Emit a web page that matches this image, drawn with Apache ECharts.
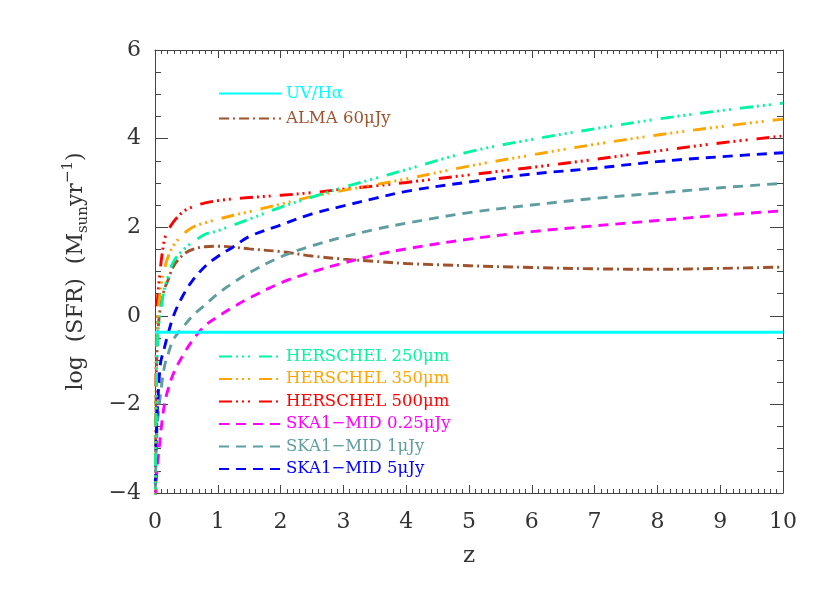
<!DOCTYPE html>
<html>
<head>
<meta charset="utf-8">
<script src="https://cdn.jsdelivr.net/npm/echarts@6/dist/echarts.min.js"></script>
<style>
  html, body { margin: 0; padding: 0; background: #fff; }
  #main { width: 830px; height: 593px; }
</style>
</head>
<body>
<div id="main"></div>
<script>
// redshift grid shared by the curves
var zs = [0.005, 0.01, 0.02, 0.03, 0.05, 0.08, 0.1, 0.15, 0.2, 0.3, 0.45, 0.6, 0.8, 1,
          1.25, 1.5, 2, 2.5, 3, 3.5, 4, 5, 6, 7, 8, 9, 10];

// log SFR limits
var herschel250 = [-4.3, -3.2, -1.8, -1.0, -0.35, 0.0, 0.2, 0.62, 0.85, 1.24, 1.49, 1.66, 1.84, 1.92,
                   2.05, 2.18, 2.45, 2.68, 2.9, 3.1, 3.3, 3.7, 3.98, 4.22, 4.44, 4.63, 4.80];
var herschel350 = [-4.3, -2.9, -1.3, -0.5, 0.14, 0.51, 0.72, 1.05, 1.3, 1.6, 1.84, 2.0, 2.1, 2.18,
                   2.27, 2.35, 2.52, 2.69, 2.83, 2.96, 3.09, 3.38, 3.63, 3.87, 4.08, 4.27, 4.44];
var herschel500 = [-4.3, -2.6, -0.8, 0.1, 0.55, 0.98, 1.25, 1.72, 1.9, 2.13, 2.35, 2.46, 2.55, 2.6,
                   2.64, 2.67, 2.72, 2.78, 2.86, 2.93, 3.01, 3.18, 3.35, 3.53, 3.72, 3.90, 4.06];
var ska025 = [-4.5, -4.2, -3.76, -3.52, -3.22, -2.8, -2.52, -2.0, -1.7, -1.28, -0.88, -0.55, -0.22, -0.02,
              0.2, 0.4, 0.74, 0.99, 1.19, 1.37, 1.51, 1.73, 1.9, 2.03, 2.15, 2.27, 2.37];
var ska1 = [-4.3, -3.6, -2.95, -2.65, -2.25, -1.85, -1.62, -1.15, -0.9, -0.52, -0.25, 0.0, 0.25, 0.5,
            0.75, 0.97, 1.33, 1.58, 1.78, 1.95, 2.09, 2.33, 2.5, 2.65, 2.77, 2.89, 2.99];
var ska5 = [-3.8, -3.4, -2.75, -2.35, -1.8, -1.15, -0.98, -0.72, -0.45, 0.02, 0.47, 0.8, 1.12, 1.34,
            1.56, 1.79, 2.05, 2.3, 2.48, 2.65, 2.81, 3.02, 3.2, 3.33, 3.48, 3.59, 3.68];
var alma60 = [-4.3, -3.0, -1.6, -0.9, -0.3, 0.14, 0.3, 0.6, 0.78, 1.13, 1.38, 1.5, 1.56, 1.57,
              1.55, 1.51, 1.45, 1.35, 1.28, 1.23, 1.18, 1.13, 1.09, 1.06, 1.05, 1.07, 1.10];
var uvZ = [0, 10];
var uvHa = [-0.37, -0.37];

var FONT = 'DejaVu Serif';

function pairs(xs, ys) {
  return xs.map(function (x, i) { return [x, ys[i]]; });
}

var dashDot3 = [13, 4, 2, 4, 2, 4, 2, 9];
var dashDot = [10, 4, 2, 4];
var dashed = [10, 7];

function curve(name, color, dash, ys, xs) {
  return {
    name: name,
    type: 'line',
    data: pairs(xs || zs, ys),
    showSymbol: false,
    symbol: 'none',
    smooth: 0.35,
    lineStyle: { color: color, width: 2.9, type: dash },
    itemStyle: { color: color },
    animation: false
  };
}

var series = [
  curve('ALMA 60μJy', '#a0522d', dashDot, alma60),
  curve('SKA1−MID 0.25μJy', '#ff00ff', dashed, ska025),
  curve('SKA1−MID 1μJy', '#5f9ea0', dashed, ska1),
  curve('SKA1−MID 5μJy', '#0000ff', dashed, ska5),
  curve('HERSCHEL 500μm', '#ff0000', dashDot3, herschel500),
  curve('HERSCHEL 350μm', '#ffa500', dashDot3, herschel350),
  curve('HERSCHEL 250μm', '#00f5a0', dashDot3, herschel250),
  curve('UV/Hα', '#00ffff', 'solid', uvHa, uvZ)
];

function legendItem(name, color) {
  return { name: name, textStyle: { color: color } };
}

var axisColor = '#444';
var labelStyle = { fontFamily: FONT, fontSize: 22, color: '#333' };

function frameAxis(extra) {
  return Object.assign({
    type: 'value',
    axisLine: { onZero: false, lineStyle: { color: axisColor, width: 1 } },
    splitLine: { show: false }
  }, extra);
}

var myChart = echarts.init(document.getElementById('main'));
myChart.setOption({
  backgroundColor: '#fff',
  animation: false,
  grid: { left: 155, right: 47, top: 50, bottom: 100 },
  legend: [{
    left: 218, top: 85, orient: 'vertical', padding: 0,
    itemWidth: 62, itemHeight: 14, itemGap: 8,
    itemStyle: { opacity: 0 },
    textStyle: { fontFamily: FONT, fontSize: 16.5 },
    data: [legendItem('UV/Hα', '#00ffff'), legendItem('ALMA 60μJy', '#a0522d')]
  }, {
    left: 218, top: 348, orient: 'vertical', padding: 0,
    itemWidth: 62, itemHeight: 14, itemGap: 5.5,
    itemStyle: { opacity: 0 },
    textStyle: { fontFamily: FONT, fontSize: 16.5 },
    data: [
      legendItem('HERSCHEL 250μm', '#00f5a0'),
      legendItem('HERSCHEL 350μm', '#ffa500'),
      legendItem('HERSCHEL 500μm', '#ff0000'),
      legendItem('SKA1−MID 0.25μJy', '#ff00ff'),
      legendItem('SKA1−MID 1μJy', '#5f9ea0'),
      legendItem('SKA1−MID 5μJy', '#0000ff')
    ]
  }],
  xAxis: [frameAxis({
    min: 0, max: 10, interval: 1, position: 'bottom',
    name: 'z', nameLocation: 'middle', nameGap: 52,
    nameTextStyle: { fontFamily: FONT, fontSize: 23, color: '#333' },
    axisTick: { inside: true, length: 8, lineStyle: { color: axisColor } },
    minorTick: { show: true, splitNumber: 10, length: 4, lineStyle: { color: axisColor } },
    axisLabel: Object.assign({ margin: 18 }, labelStyle)
  }), frameAxis({
    min: 0, max: 10, interval: 1, position: 'top',
    axisTick: { inside: true, length: 8, lineStyle: { color: axisColor } },
    minorTick: { show: true, splitNumber: 10, length: 4, lineStyle: { color: axisColor } },
    axisLabel: { show: false }
  })],
  yAxis: [frameAxis({
    min: -4, max: 6, interval: 2, position: 'left',
    name: '{a|log  (SFR)  (M}{s|sun}{a|yr}{p|−1}{a|)}',
    nameLocation: 'middle', nameGap: 64, nameRotate: 90,
    nameTextStyle: {
      rich: {
        a: { fontFamily: FONT, fontSize: 22, color: '#333', lineHeight: 30 },
        s: { fontFamily: FONT, fontSize: 15, color: '#333', lineHeight: 15, verticalAlign: 'bottom' },
        p: { fontFamily: FONT, fontSize: 15, color: '#333', lineHeight: 15, verticalAlign: 'top' }
      }
    },
    axisTick: { inside: true, length: 13, lineStyle: { color: axisColor } },
    minorTick: { show: true, splitNumber: 4, length: 6, lineStyle: { color: axisColor } },
    axisLabel: Object.assign({
      margin: 14,
      formatter: function (v) { return String(v).replace('-', '−'); }
    }, labelStyle)
  }), frameAxis({
    min: -4, max: 6, interval: 2, position: 'right',
    axisTick: { inside: true, length: 13, lineStyle: { color: axisColor } },
    minorTick: { show: true, splitNumber: 4, length: 6, lineStyle: { color: axisColor } },
    axisLabel: { show: false }
  })],
  series: series
});
</script>
</body>
</html>
